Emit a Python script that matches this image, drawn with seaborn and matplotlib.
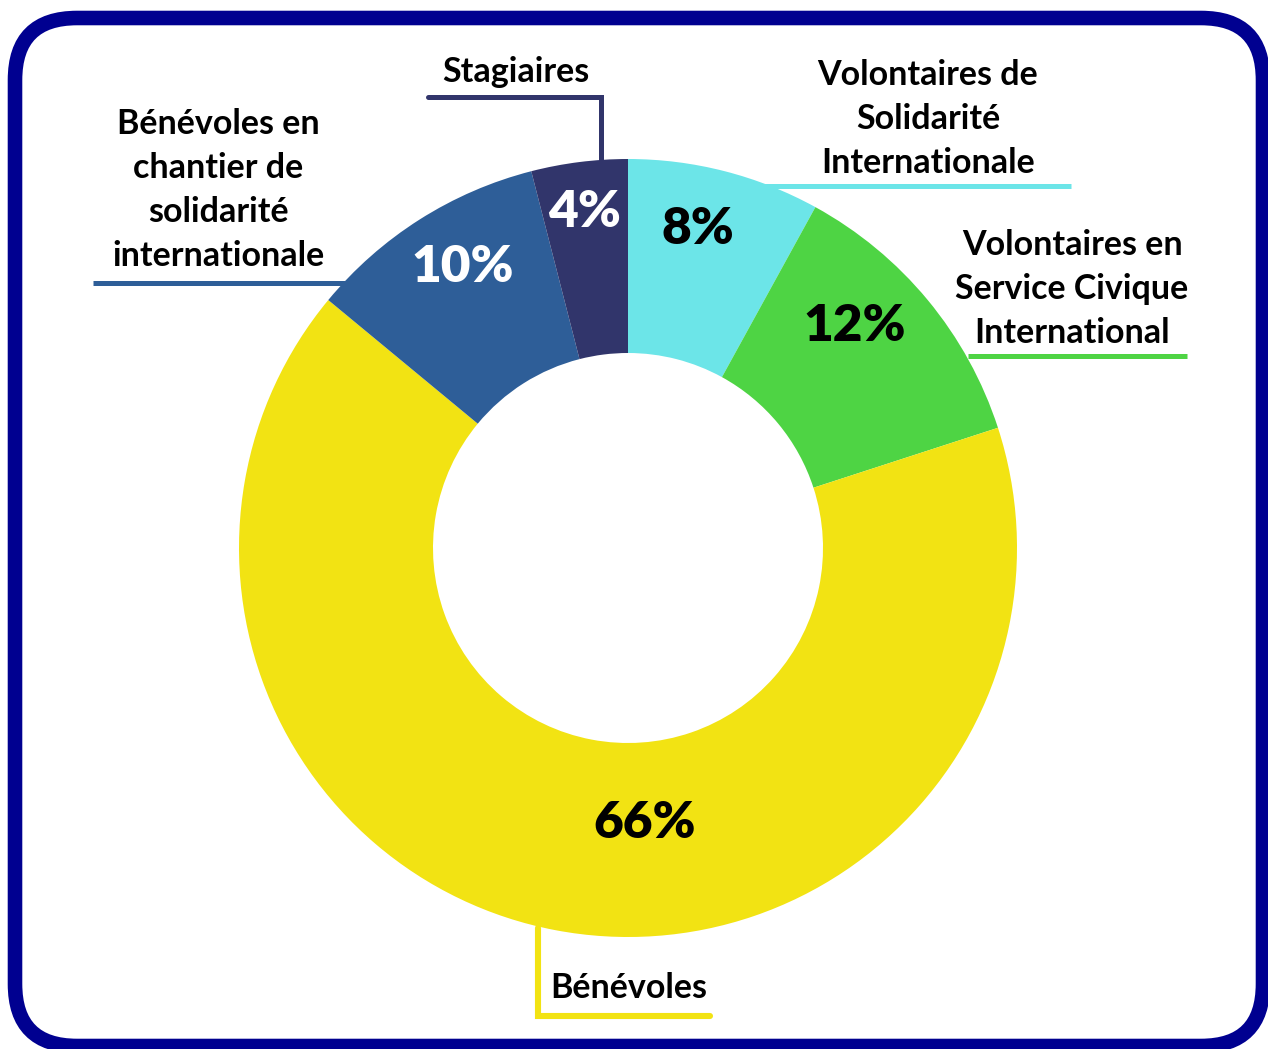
import matplotlib
matplotlib.use("Agg")
import matplotlib.pyplot as plt
from matplotlib.patches import FancyBboxPatch
import seaborn as sns

# ---- data ----
categories = ["Volontaires de\nSolidarité\nInternationale",
              "Volontaires en\nService Civique\nInternational",
              "Bénévoles",
              "Bénévoles en\nchantier de\nsolidarité\ninternationale",
              "Stagiaires"]
values = [8, 12, 66, 10, 4]
pct_labels = ["8%", "12%", "66%", "10%", "4%"]
colors = ["#6CE5E8", "#4ED444", "#F2E313", "#2E5E98", "#31356B"]
pct_colors = ["black", "black", "black", "white", "white"]

sns.set_theme(style="white")
plt.rcParams['font.family'] = ['Lato', 'DejaVu Sans']

W, H = 1268, 1049
fig = plt.figure(figsize=(W / 100, H / 100), dpi=100)
ax = fig.add_axes([0, 0, 1, 1])
ax.set_xlim(0, W)
ax.set_ylim(0, H)
ax.set_aspect("equal")
ax.axis("off")

def Y(y):
    return H - y

# rounded border
border = FancyBboxPatch((15, Y(1046)), 1248, 1028,
                        boxstyle="round,pad=0,rounding_size=62",
                        fill=False, edgecolor="#000090", linewidth=10.5,
                        zorder=1)
ax.add_patch(border)

pal = sns.color_palette(colors)
cx, cy, R = 628, Y(548), 389
wedges, _ = ax.pie(values, colors=pal, startangle=90, counterclock=False,
                   center=(cx, cy), radius=R,
                   wedgeprops=dict(width=R - 195, linewidth=0),
                   frame=True)
ax.set_xlim(0, W)
ax.set_ylim(0, H)
ax.axis("off")

# percentage labels
pct_pos = [(698, 229), (855, 326), (645, 823), (463, 267), (585, 212)]
for (px, py), t, c in zip(pct_pos, pct_labels, pct_colors):
    ax.text(px, Y(py), t, ha="center", va="center", fontsize=37,
            fontweight="heavy", color=c, zorder=5)

lw = 3.6
fs = 24.5
ls = 1.47
# Volontaires de Solidarité Internationale
ax.text(928, Y(119), categories[0], ha="center", va="center", fontsize=fs,
        fontweight="bold", linespacing=ls, color="black")
ax.plot([760, 1071], [Y(186), Y(186)], color=colors[0], lw=lw, solid_capstyle="butt")
# Service Civique
ax.text(1072, Y(289), categories[1], ha="center", va="center", fontsize=fs,
        fontweight="bold", linespacing=ls, color="black")
ax.plot([968, 1187], [Y(356), Y(356)], color=colors[1], lw=lw, solid_capstyle="butt")
# Bénévoles
ax.text(550, Y(988), categories[2], ha="left", va="center", fontsize=fs,
        fontweight="bold", color="black")
ax.plot([538, 538, 710], [Y(928), Y(1016), Y(1016)], color=colors[2], lw=lw + 0.8,
        solid_joinstyle="miter")
# Bénévoles en chantier
ax.text(218, Y(190), categories[3], ha="center", va="center", fontsize=fs,
        fontweight="bold", linespacing=ls, color="black")
ax.plot([93, 345], [Y(283), Y(283)], color=colors[3], lw=lw, solid_capstyle="butt")
# Stagiaires
ax.text(516, Y(72), categories[4], ha="center", va="center", fontsize=fs,
        fontweight="bold", color="black")
ax.plot([428, 601, 601], [Y(97), Y(97), Y(162)], color=colors[4], lw=lw,
        solid_joinstyle="miter")

fig.savefig("out.png", dpi=100, facecolor="white")
